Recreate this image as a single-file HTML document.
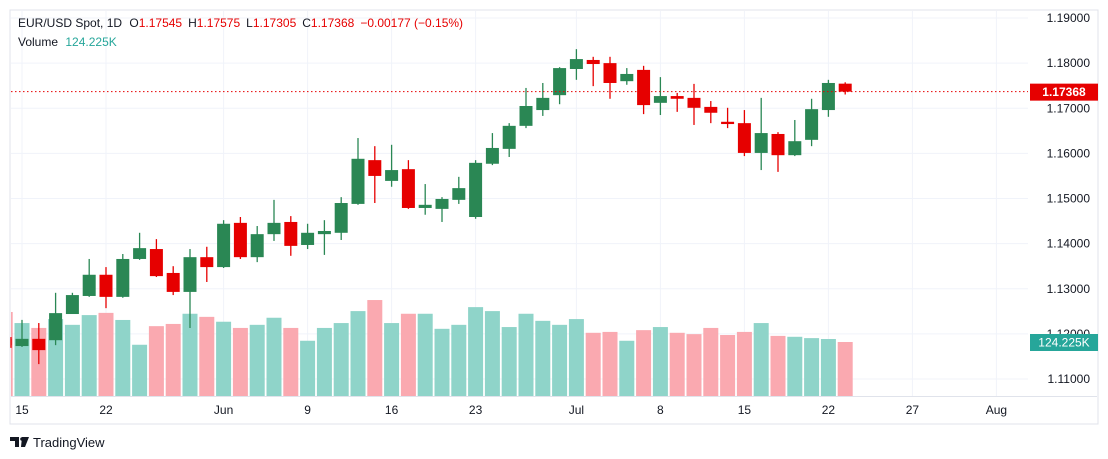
<!DOCTYPE html>
<html><head><meta charset="utf-8"><style>
body{margin:0;background:#fff;width:1108px;height:459px;overflow:hidden;font-family:"Liberation Sans",sans-serif}
svg{position:absolute;left:0;top:0}
</style></head><body>
<svg id="chart" width="1108" height="459" xmlns="http://www.w3.org/2000/svg">
<rect x="10" y="10" width="1088" height="414" fill="#fff" stroke="#e0e3eb"/>
<g id="grid"></g><g id="vol"></g><g id="candles"></g><g id="axes"></g>
<text x="18" y="27" font-size="12" fill="#131722">EUR/USD Spot, 1D <tspan dx="4">O</tspan><tspan fill="#e60000">1.17545</tspan><tspan dx="6">H</tspan><tspan fill="#e60000">1.17575</tspan><tspan dx="6">L</tspan><tspan fill="#e60000">1.17305</tspan><tspan dx="6">C</tspan><tspan fill="#e60000">1.17368</tspan><tspan dx="6" fill="#e60000">−0.00177 (−0.15%)</tspan></text>
<text x="18" y="46" font-size="12" fill="#131722">Volume <tspan dx="4" fill="#26a69a">124.225K</tspan></text>
<g><path d="M10 437h9v10h-4v-6h-5z M22 437h7l-4 10h-4z" fill="#131722"/><circle cx="22" cy="439" r="1.8" fill="#131722"/><text x="33" y="447" font-size="13" fill="#131722">TradingView</text></g>
</svg>
<script>
const opens=[1.1189,1.1173,1.1189,1.1186,1.1244,1.1284,1.1331,1.1282,1.1366,1.1388,1.1335,1.1293,1.1370,1.1348,1.1446,1.1370,1.1421,1.1448,1.1397,1.1421,1.1424,1.1488,1.1585,1.1539,1.1565,1.1479,1.1477,1.1497,1.1459,1.1577,1.1610,1.1661,1.1696,1.1729,1.1787,1.1807,1.1800,1.1760,1.1785,1.1712,1.1727,1.1723,1.1703,1.1670,1.1667,1.1601,1.1643,1.1596,1.1630,1.1696,1.17545];
const highs=[1.1193,1.1231,1.1224,1.1291,1.1291,1.1366,1.1348,1.1377,1.1424,1.1410,1.1350,1.1388,1.1393,1.1452,1.1459,1.1439,1.1497,1.1461,1.1444,1.1452,1.1503,1.1634,1.1616,1.1619,1.1585,1.1532,1.1503,1.1548,1.1585,1.1645,1.1667,1.1745,1.1756,1.1791,1.1831,1.1814,1.1814,1.1789,1.1794,1.1769,1.1734,1.1754,1.1716,1.1701,1.1696,1.1723,1.1647,1.1674,1.1721,1.1763,1.17575];
const lows=[1.1169,1.1171,1.1133,1.1175,1.1282,1.1282,1.1257,1.1280,1.1364,1.1326,1.1286,1.1213,1.1315,1.1346,1.1366,1.1359,1.1406,1.1373,1.1388,1.1375,1.1408,1.1486,1.1490,1.1526,1.1477,1.1464,1.1448,1.1488,1.1455,1.1574,1.1592,1.1656,1.1683,1.1709,1.1763,1.1749,1.1721,1.1752,1.1687,1.1685,1.1692,1.1663,1.1667,1.1656,1.1594,1.1563,1.1559,1.1594,1.1616,1.1681,1.17305];
const closes=[1.1175,1.1189,1.1164,1.1246,1.1286,1.1331,1.1282,1.1366,1.1390,1.1328,1.1293,1.1370,1.1348,1.1444,1.1370,1.1421,1.1446,1.1395,1.1424,1.1428,1.1490,1.1588,1.1550,1.1563,1.1479,1.1486,1.1499,1.1523,1.1579,1.1612,1.1661,1.1705,1.1723,1.1789,1.1809,1.1798,1.1756,1.1776,1.1707,1.1727,1.1721,1.1701,1.1690,1.1665,1.1601,1.1645,1.1596,1.1627,1.1698,1.1756,1.17368];
const volumes=[192,167,156,176,163,185,190,174,118,160,165,188,181,170,156,163,179,156,127,156,167,194,219,167,188,188,154,163,203,194,158,188,172,163,176,145,147,127,151,158,145,142,156,140,147,167,138,136,133,131,124.225];
const priceTicks=[1.19,1.18,1.17,1.16,1.15,1.14,1.13,1.12,1.11];
const dateLabels=["15","22","Jun","9","16","23","Jul","8","15","22","27","Aug"];
const dateIdx=[1,6,13,18,23,28,34,39,44,49,54,59];
const lastPrice=1.17368;
const NS="http://www.w3.org/2000/svg";
const y=p=>18+(1.19-p)*4512.5;
const x=i=>22+(i-1)*16.8;
const vy=v=>397-v/2.2586;
function mk(tag,attrs,parent){const e=document.createElementNS(NS,tag);for(const k in attrs)e.setAttribute(k,attrs[k]);parent.appendChild(e);return e;}
const grid=document.getElementById('grid'),vol=document.getElementById('vol'),cg=document.getElementById('candles'),ax=document.getElementById('axes');
priceTicks.forEach(p=>{
 const l=mk('line',{x1:11,x2:1028,y1:y(p),y2:y(p),stroke:'#f0f3fa'},grid);
 
 
 const t=mk('text',{x:1090,y:y(p)+4,'font-size':12,fill:'#131722','text-anchor':'end'},ax);
 t.textContent=p.toFixed(5);
 
 
});
dateLabels.forEach((d,k)=>{
 const xx=x(dateIdx[k]);
 const l=mk('line',{x1:xx,x2:xx,y1:11,y2:396,stroke:'#f0f3fa'},grid);
 
 
 const t=mk('text',{x:xx,y:414,'font-size':12,fill:'#131722','text-anchor':'middle'},ax);
 t.textContent=d;
 
 
});
const sep=mk('line',{x1:11,x2:1097,y1:396.5,y2:396.5,stroke:'#e0e3eb'},ax);


opens.forEach((o,i)=>{
 const c=closes[i],up=c>=o,xx=x(i);
 const vb=mk('rect',{x:Math.max(11,xx-7.5),y:vy(volumes[i]),width:xx-7.5<11?xx+7.5-11:15,height:397-vy(volumes[i]),fill:up?'#8fd4c9':'#faa9b0'},vol);
 
 
 const col=up?'#2a8754':'#e60000';
 const g=mk('g',{},cg);
 
 
 const cx=Math.max(11,xx);
 mk('line',{x1:cx,x2:cx,y1:y(highs[i]),y2:y(lows[i]),stroke:col,'stroke-width':1.3},g);
 const top=y(Math.max(o,c)),h=Math.max(1.5,y(Math.min(o,c))-top);
 const bx=Math.max(11,xx-6.5);
 mk('rect',{x:bx,y:top,width:xx+6.5-bx,height:h,fill:col},g);
});
const ly=y(lastPrice);
const pl=mk('line',{x1:11,x2:1028,y1:ly,y2:ly,stroke:'#e60000','stroke-dasharray':'1.5 2.5'},ax);


const pb=mk('rect',{x:1030,y:ly-8,width:68,height:17,fill:'#e60000'},ax);


const pt=mk('text',{x:1064,y:ly+4.5,'font-size':12,fill:'#fff','font-weight':'bold','text-anchor':'middle'},ax);
pt.textContent=lastPrice.toFixed(5);


const vly=vy(volumes[volumes.length-1]);
const vb2=mk('rect',{x:1030,y:vly-8,width:68,height:17,fill:'#26a69a'},ax);


const vt=mk('text',{x:1064,y:vly+4.5,'font-size':12,fill:'#fff','text-anchor':'middle'},ax);
vt.textContent=volumes[volumes.length-1].toFixed(3)+'K';


</script>
</body></html>
